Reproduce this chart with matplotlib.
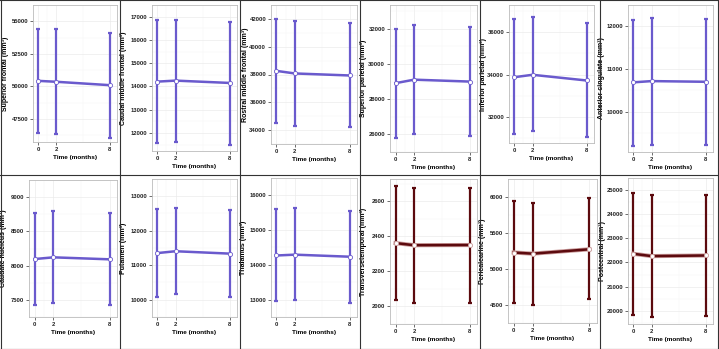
import numpy as np
import matplotlib
matplotlib.use("Agg")
import matplotlib.pyplot as plt
from matplotlib.lines import Line2D

plt.rcParams['font.family'] = ['Liberation Sans Narrow', 'Liberation Sans', 'DejaVu Sans']

# 시간 (months)
time = [0, 2, 8]

# 영역 이름
regions = ["Superior frontal", "Caudal middle frontal", "Rostral middle frontal",
           "Superior parietal", "Inferior parietal", "Anterior cingulate",
           "Caudate nucleus", "Putamen", "Thalamus",
           "Transversetemporal", "Pericalcarine", "Postcentral"]

# 평균값
means = [[50430, 50360, 50100],
         [14207, 14250, 14150],
         [38260, 38075, 37930],
         [28914, 29113, 29005],
         [33873, 33986, 33716],
         [10687, 10716, 10700],
         [8096, 8121, 8092],
         [11353, 11406, 11337],
         [14270, 14294, 14235],
         [2362, 2350, 2351],
         [5229, 5213, 5274],
         [22360, 22265, 22290]]

# 에러바 상단 / 하단
upper = [[54430, 54380, 54120],
         [16860, 16875, 16750],
         [42000, 41815, 41710],
         [32000, 32230, 32105],
         [36616, 36740, 36455],
         [12157, 12192, 12180],
         [8762, 8791, 8762],
         [12622, 12660, 12598],
         [15608, 15625, 15551],
         [2689, 2677, 2679],
         [5940, 5921, 5982],
         [24865, 24810, 24810]]

lower = [[46400, 46360, 46070],
         [11565, 11594, 11480],
         [34530, 34320, 34220],
         [25800, 26000, 25890],
         [31180, 31305, 31035],
         [9195, 9228, 9217],
         [7429, 7450, 7425],
         [10093, 10155, 10077],
         [12953, 12985, 12904],
         [2036, 2020, 2022],
         [4524, 4506, 4578],
         [19840, 19745, 19770]]

# y축 눈금
yticks = [[47500, 50000, 52500, 55000],
          [12000, 13000, 14000, 15000, 16000, 17000],
          [34000, 36000, 38000, 40000, 42000],
          [26000, 28000, 30000, 32000],
          [32000, 34000, 36000],
          [10000, 11000, 12000],
          [7500, 8000, 8500, 9000],
          [10000, 11000, 12000, 13000],
          [13000, 14000, 15000, 16000],
          [2000, 2200, 2400, 2600],
          [4500, 5000, 5500, 6000],
          [20000, 21000, 22000, 23000, 24000, 25000]]

# y축 범위
ylims = [(45740, 55520), (11225, 17278), (33796, 42390), (25479, 33359),
         (30754, 37294), (9054, 12342), (7354, 9066), (9944, 13139),
         (12762, 16157), (1993, 2728), (4458, 6075), (19452, 25280)]

# 패널 위치 (픽셀: left, top, right, bottom) 와 y 라벨 중심 x
boxes = [(33, 5, 117, 142), (152, 5, 237, 151), (271, 5, 357, 144),
         (390, 5, 477, 152), (509, 5, 594, 143), (628, 5, 713, 152),
         (29, 180, 117, 317), (152, 179, 237, 317), (271, 178, 357, 317),
         (390, 179, 477, 324), (508, 179, 597, 323), (628, 178, 713, 324)]
ylab_x = [12, 130, 252, 370, 490, 608, 10, 130, 250, 370, 489, 609]

W, H = 719, 349
fig = plt.figure(figsize=(W / 100, H / 100), dpi=100)

blue = "#6A5ACD"
red = "#5C0A0E"

for i in range(12):
    l, t, r, b = boxes[i]
    ax = fig.add_axes([l / W, 1 - b / H, (r - l) / W, (b - t) / H])
    c = blue if i < 9 else red
    m = np.array(means[i])
    up = np.array(upper[i])
    lo = np.array(lower[i])
    ax.errorbar(time, m, yerr=[m - lo, up - m], fmt='none', ecolor=c,
                elinewidth=1.6, capsize=1.2, capthick=1.6, zorder=2)
    if i >= 9:
        ax.plot(time, m, color="#C99A9A", lw=3.0, zorder=2.5)
    ax.plot(time, m, color=c, lw=1.8, zorder=3)
    ax.scatter(time, m, s=9, facecolor="white", edgecolor=c if i < 9 else "#C99A9A",
               linewidth=0.6, zorder=4)
    ax.set_xlim(-0.6, 8.8)
    ax.set_ylim(*ylims[i])
    ax.set_xticks(time)
    ax.set_yticks(yticks[i])
    step = yticks[i][1] - yticks[i][0]
    ax.set_yticks(np.arange(yticks[i][0] - step / 2, yticks[i][-1] + step, step), minor=True)
    ax.set_xticks([1, 5], minor=True)
    ax.grid(True, which='major', color="#EBEBEB", lw=0.5)
    ax.grid(True, which='minor', color="#F4F4F4", lw=0.3)
    ax.set_axisbelow(True)
    ax.tick_params(which='major', labelsize=4.2, length=2, width=0.5,
                   color="#333333", labelcolor="#222222", pad=1.5)
    ax.tick_params(which='minor', length=0)
    for lab in ax.get_xticklabels() + ax.get_yticklabels():
        lab.set_fontweight('bold')
    for s in ax.spines.values():
        s.set_color("#BBBBBB")
        s.set_linewidth(0.6)
    ax.set_ylabel(regions[i] + " (mm³)", fontsize=5.0, fontweight='bold')
    # 라벨 기준점은 회전된 글자의 왼쪽 가장자리
    ax.yaxis.set_label_coords(-(l - ylab_x[i] + 3.3) / (r - l), 0.5)
    ax.set_xlabel("Time (months)", fontsize=4.6, fontweight='bold', labelpad=2.5)

# 셀 경계선
for x in [120, 240, 360, 480, 600]:
    fig.add_artist(Line2D([x / W, x / W], [0, 1], color="#333333", lw=0.8))
fig.add_artist(Line2D([0, 1], [1 - 175 / H, 1 - 175 / H], color="#333333", lw=0.8))
for xs, ys in [([0, 1], [0.001, 0.001]), ([0, 1], [0.999, 0.999]),
               ([0.001, 0.001], [0, 1]), ([0.999, 0.999], [0, 1])]:
    fig.add_artist(Line2D(xs, ys, color="#333333", lw=0.8))

plt.savefig("out.png", dpi=100)
